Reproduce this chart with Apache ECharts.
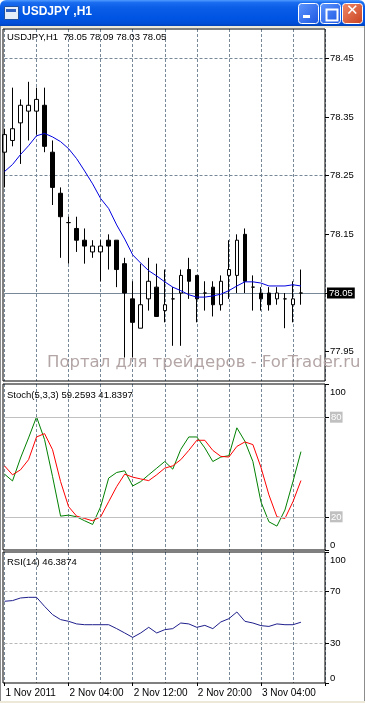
<!DOCTYPE html>
<html><head><meta charset="utf-8">
<script src="https://cdn.jsdelivr.net/npm/echarts@6/dist/echarts.min.js"></script>
<style>html,body{margin:0;padding:0;background:#fff;overflow:hidden}#c{width:365px;height:703px}</style>
</head><body><div id="c"></div><script>
// ---- data ----
const barTimes = ['2011.11.01 20:00','2011.11.01 21:00','2011.11.01 22:00','2011.11.01 23:00',
 '2011.11.02 00:00','2011.11.02 01:00','2011.11.02 02:00','2011.11.02 03:00','2011.11.02 04:00','2011.11.02 05:00',
 '2011.11.02 06:00','2011.11.02 07:00','2011.11.02 08:00','2011.11.02 09:00','2011.11.02 10:00','2011.11.02 11:00',
 '2011.11.02 12:00','2011.11.02 13:00','2011.11.02 14:00','2011.11.02 15:00','2011.11.02 16:00','2011.11.02 17:00',
 '2011.11.02 18:00','2011.11.02 19:00','2011.11.02 20:00','2011.11.02 21:00','2011.11.02 22:00','2011.11.02 23:00',
 '2011.11.03 00:00','2011.11.03 01:00','2011.11.03 02:00','2011.11.03 03:00','2011.11.03 04:00','2011.11.03 05:00',
 '2011.11.03 06:00','2011.11.03 07:00','2011.11.03 08:00','2011.11.03 09:00'];
const futureSlots = ['2011.11.03 10:00','2011.11.03 11:00','2011.11.03 12:00'];
const opens  = [78.29,78.31,78.34,78.36,78.36,78.37,78.29,78.22,78.17,78.16,78.14,78.12,78.12,78.14,78.14,78.10,78.04,77.99,78.04,78.06,78.02,78.04,78.05,78.09,78.08,78.05,78.06,78.03,78.08,78.08,78.15,78.06,78.05,78.05,78.04,78.04,78.03,78.05];
const highs  = [78.33,78.40,78.38,78.41,78.40,78.40,78.31,78.23,78.18,78.18,78.16,78.14,78.14,78.15,78.14,78.11,78.07,78.10,78.11,78.10,78.09,78.06,78.09,78.11,78.08,78.07,78.07,78.08,78.14,78.15,78.16,78.08,78.06,78.06,78.06,78.05,78.07,78.09];
const lows   = [78.23,78.30,78.27,78.31,78.32,78.29,78.20,78.11,78.10,78.12,78.10,78.11,78.07,78.09,78.06,77.94,77.94,77.99,78.02,78.01,78.00,77.96,77.96,78.04,78.00,78.02,78.01,78.02,78.04,78.05,78.05,78.02,78.02,78.02,78.03,77.99,78.00,78.03];
const closes = [78.32,78.33,78.37,78.37,78.38,78.30,78.23,78.18,78.17,78.14,78.13,78.13,78.13,78.13,78.09,78.05,78.00,78.03,78.07,78.01,78.03,78.04,78.08,78.07,78.04,78.05,78.03,78.07,78.09,78.14,78.07,78.06,78.04,78.03,78.05,78.04,78.04,78.05];
const maValues = [78.257,78.269,78.286,78.301,78.318,78.322,78.316,78.308,78.296,78.279,78.258,78.236,78.211,78.194,78.166,78.142,78.115,78.101,78.088,78.079,78.069,78.060,78.054,78.047,78.043,78.043,78.045,78.048,78.054,78.062,78.069,78.069,78.067,78.062,78.062,78.062,78.064,78.062];
const stochK = [45.7,41.6,55.4,67.5,80.2,66.5,44.2,20.4,21.0,20.0,17.6,15.4,26.1,43.3,46.7,47.7,38.6,41.2,45.3,49.3,53.3,48.7,60.6,68.1,68.1,61.5,53.3,56.0,56.8,73.6,65.5,53.3,29.1,17.0,14.4,24.1,41.2,59.2593];
const stochD = [50.7,45.3,48.3,54.4,68.1,70.1,60.4,41.2,26.1,20.4,19.0,17.6,20.0,29.1,38.2,45.7,43.9,42.8,41.8,45.3,49.3,50.7,54.4,60.0,66.1,66.1,60.0,56.4,56.0,62.4,65.1,63.5,49.9,33.2,20.0,19.0,29.1,41.8397];
const rsiValues = [62.4,62.9,64.9,65.4,65.4,58.5,52.2,48.4,47.1,45.1,44.5,44.5,44.5,44.5,41.5,38.2,34.8,38.2,42.5,38.2,40.7,41.5,45.8,45.1,42.5,44.0,41.5,46.6,49.1,54.2,47.1,45.8,43.8,43.2,45.1,44.5,44.5,46.3874];
const priceTicks = [77.95,78.05,78.15,78.25,78.35,78.45];
const stochTicks = [0,20,80,100];
const stochLevels = [20,80];
const rsiTicks = [0,30,70,100];
const rsiLevels = [30,70];
const timeTickLabels = ['1 Nov 2011','2 Nov 04:00','2 Nov 12:00','2 Nov 20:00','3 Nov 04:00'];
const windowTitle = 'USDJPY ,H1';
const mainHeader = 'USDJPY,H1  78.05 78.09 78.03 78.05';
const stochHeader = 'Stoch(5,3,3) 59.2593 41.8397';
const rsiHeader = 'RSI(14) 46.3874';
const watermark = 'Портал для трейдеров - ForTrader.ru';

// ---- build ----
const categories = barTimes.concat(futureSlots);
const ohlc = opens.map((o, i) => [o, closes[i], lows[i], highs[i]]);
const FONT = 'Liberation Sans';
const FS = 9.5;
const GRID_COLOR = '#778899';
const panes = [ {top: 29, height: 352}, {top: 384, height: 166}, {top: 552, height: 131} ];
const dataLeft = 4.5, dataWidth = 320.5;

const grids = panes.map(p => ({left: dataLeft, width: dataWidth, top: p.top, height: p.height, show: false}))
  .concat(panes.map(p => ({left: 3, width: 322, top: p.top, height: p.height, show: true, borderColor: '#000', borderWidth: 1, backgroundColor: 'transparent', z: 5})));

function catAxis(idx, withLabels) {
  return {
    type: 'category', gridIndex: idx, data: categories, boundaryGap: false,
    axisLine: {show: false},
    axisTick: {show: withLabels, interval: 7, length: 3, lineStyle: {color: '#000'}},
    axisLabel: {show: withLabels, interval: 0, align: 'left', margin: 5, padding: [0,0,0,1],
      fontFamily: FONT, fontSize: 10, color: '#000',
      formatter: (v, i) => (i % 8 === 0 && timeTickLabels[i / 8]) ? timeTickLabels[i / 8] : ''},
    splitLine: {show: true, interval: 3, lineStyle: {color: GRID_COLOR, type: [3, 2], width: 1}}
  };
}
const xAxes = [catAxis(0, false), catAxis(1, false), catAxis(2, true)];
for (let k = 3; k < 6; k++) xAxes.push({type: 'value', gridIndex: k, show: false});

const labelBase = {fontFamily: FONT, fontSize: FS, color: '#000', margin: 5, align: 'left'};
const edgeRich = {t: {fontFamily: FONT, fontSize: FS, color: '#000', padding: [3, 0, 0, 0]},
                  g: {backgroundColor: '#c0c0c0', color: '#fff', fontFamily: FONT, fontSize: FS, padding: [1, 1, 0, 1]}};
const yAxes = [
  {type: 'value', gridIndex: 0, position: 'right', min: 77.9, max: 78.5, interval: 0.05,
    axisLine: {show: false},
    axisTick: {show: true, length: 4, customValues: priceTicks, lineStyle: {color: '#000'}},
    axisLabel: Object.assign({}, labelBase, {customValues: priceTicks,
      formatter: v => { const r = Math.round(v * 100); return (r % 10 === 5) ? (r / 100).toFixed(2) : ''; }}),
    splitLine: {show: true, lineStyle: {color: ['rgba(0,0,0,0)', GRID_COLOR], type: [3, 2], width: 1}}},
  {type: 'value', gridIndex: 1, position: 'right', min: 0, max: 100, interval: 20,
    axisLine: {show: false},
    axisTick: {show: true, length: 4, customValues: stochTicks, lineStyle: {color: '#000'}},
    axisLabel: Object.assign({}, labelBase, {customValues: stochTicks,
      verticalAlignMaxLabel: 'top', verticalAlignMinLabel: 'bottom',
      formatter: v => (stochLevels.indexOf(v) >= 0) ? '{g|' + v + '}' : (v === 100 ? '{t|100}' : (stochTicks.indexOf(v) >= 0 ? String(v) : '')),
      rich: edgeRich}),
    splitLine: {show: false}},
  {type: 'value', gridIndex: 2, position: 'right', min: 0, max: 100, interval: 10,
    axisLine: {show: false},
    axisTick: {show: true, length: 4, customValues: rsiTicks, lineStyle: {color: '#000'}},
    axisLabel: Object.assign({}, labelBase, {customValues: rsiTicks,
      verticalAlignMaxLabel: 'top', verticalAlignMinLabel: 'bottom',
      formatter: v => (v === 100 ? '{t|100}' : (rsiTicks.indexOf(v) >= 0 ? String(v) : '')),
      rich: edgeRich}),
    splitLine: {show: false}}
];
for (let k = 3; k < 6; k++) yAxes.push({type: 'value', gridIndex: k, show: false});

const headerStyle = {fontFamily: FONT, fontSize: FS, color: '#000', fontWeight: 'normal'};
const option = {
  animation: false,
  backgroundColor: '#fff',
  title: [
    {text: mainHeader, left: 7, top: 32, padding: 0, textStyle: headerStyle},
    {text: stochHeader, left: 7, top: 390, padding: 0, textStyle: headerStyle},
    {text: rsiHeader, left: 7, top: 557, padding: 0, textStyle: headerStyle}
  ],
  grid: grids,
  xAxis: xAxes,
  yAxis: yAxes,
  series: [
    {type: 'candlestick', xAxisIndex: 0, yAxisIndex: 0, data: ohlc, barWidth: 4, clip: false,
      itemStyle: {color: '#fff', color0: '#000', borderColor: '#000', borderColor0: '#000', borderColorDoji: '#000', borderWidth: 1},
      markLine: {silent: true, symbol: 'none', animation: false, z: 1,
        lineStyle: {color: GRID_COLOR, type: 'solid', width: 1},
        label: {position: 'end', distance: 2, backgroundColor: '#000', color: '#fff', fontFamily: FONT, fontSize: FS, padding: [1, 2, 0, 2],
          formatter: p => Number(p.value).toFixed(2)},
        data: [{yAxis: closes[closes.length - 1]}]}},
    {type: 'line', xAxisIndex: 0, yAxisIndex: 0, data: maValues, symbol: 'none', z: 3,
      lineStyle: {color: '#0000e0', width: 1}},
    {type: 'line', xAxisIndex: 1, yAxisIndex: 1, data: stochK, symbol: 'none', z: 3,
      lineStyle: {color: '#008000', width: 1},
      markLine: {silent: true, symbol: 'none', animation: false, lineStyle: {color: '#c0c0c0', type: 'solid', width: 1}, label: {show: false},
        data: stochLevels.map(v => ({yAxis: v}))}},
    {type: 'line', xAxisIndex: 1, yAxisIndex: 1, data: stochD, symbol: 'none', z: 4,
      lineStyle: {color: '#ff0000', width: 1}},
    {type: 'line', xAxisIndex: 2, yAxisIndex: 2, data: rsiValues, symbol: 'none', z: 3,
      lineStyle: {color: '#1e1e8c', width: 1},
      markLine: {silent: true, symbol: 'none', animation: false, lineStyle: {color: '#b8b8b8', type: [3, 2], width: 1}, label: {show: false},
        data: rsiLevels.map(v => ({yAxis: v}))}}
  ],
  graphic: [
    {type: 'rect', left: 0, top: 26, z: 99, shape: {width: 365, height: 2}, style: {fill: '#ece9d8'}},
    {type: 'rect', left: 0, top: 26, z: 99, shape: {width: 1, height: 677}, style: {fill: '#8c8c8c'}},
    {type: 'rect', left: 364, top: 26, z: 99, shape: {width: 1, height: 677}, style: {fill: '#8c8c8c'}},
    {type: 'rect', left: 0, top: 701, z: 99, shape: {width: 365, height: 2}, style: {fill: '#ece9d8'}},
    {type: 'rect', left: 0, top: 0, z: 100, shape: {width: 365, height: 26, r: [6, 6, 0, 0]},
      style: {fill: new echarts.graphic.LinearGradient(0, 0, 0, 1, [
        {offset: 0, color: '#4f9bff'}, {offset: 0.1, color: '#1a6cf0'}, {offset: 0.3, color: '#0a5de6'},
        {offset: 0.7, color: '#0054e3'}, {offset: 0.9, color: '#004ed8'}, {offset: 1, color: '#0042bb'}])}},
    {type: 'rect', left: 4, top: 6, z: 101, shape: {width: 14, height: 13},
      style: {fill: '#e8eef8', stroke: '#2050a0', lineWidth: 1}},
    {type: 'rect', left: 6, top: 9, z: 102, shape: {width: 10, height: 3}, style: {fill: '#3060c0'}},
    {type: 'text', left: 22, top: 6, z: 101,
      style: {text: windowTitle, fill: '#fff', font: 'bold 12px "Liberation Sans"', textShadowColor: '#0a1e70', textShadowOffsetX: 1, textShadowOffsetY: 1}},
    {type: 'rect', left: 298, top: 3, z: 101, shape: {width: 20, height: 20, r: 3},
      style: {fill: new echarts.graphic.LinearGradient(0, 0, 1, 1, [{offset: 0, color: '#5f97ff'}, {offset: 1, color: '#1b55e0'}]), stroke: '#fff', lineWidth: 1}},
    {type: 'rect', left: 303, top: 15, z: 102, shape: {width: 7, height: 3}, style: {fill: '#fff'}},
    {type: 'rect', left: 320, top: 3, z: 101, shape: {width: 20, height: 20, r: 3},
      style: {fill: new echarts.graphic.LinearGradient(0, 0, 1, 1, [{offset: 0, color: '#5f97ff'}, {offset: 1, color: '#1b55e0'}]), stroke: '#fff', lineWidth: 1}},
    {type: 'rect', left: 324, top: 7, z: 102, shape: {width: 11, height: 11},
      style: {fill: 'none', stroke: '#fff', lineWidth: 2}},
    {type: 'rect', left: 342, top: 3, z: 101, shape: {width: 20, height: 20, r: 3},
      style: {fill: new echarts.graphic.LinearGradient(0, 0, 1, 1, [{offset: 0, color: '#f08b6a'}, {offset: 1, color: '#c8401e'}]), stroke: '#fff', lineWidth: 1}},
    {type: 'text', left: 346, top: 4, z: 102,
      style: {text: '✕', fill: '#fff', font: 'bold 15px "DejaVu Sans"'}},
    {type: 'text', left: 47, top: 354, z: 50,
      style: {text: watermark, fill: '#b4a6a6', font: '16.5px "DejaVu Sans"'}}
  ]
};
const chart = echarts.init(document.getElementById('c'), null, {renderer: 'canvas'});
chart.setOption(option);
</script></body></html>
